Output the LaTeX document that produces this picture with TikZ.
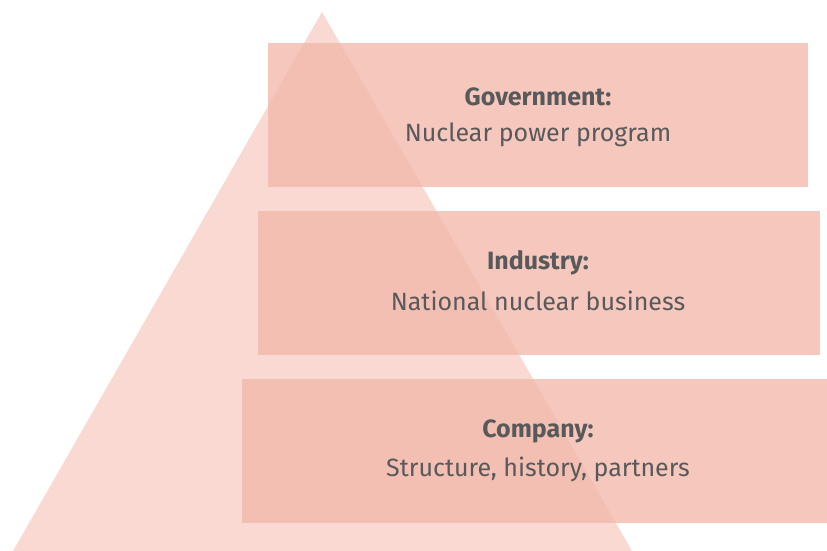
\documentclass[tikz,border=0pt]{standalone}
\usepackage{fontspec}
\setmainfont{Fira Sans}
\definecolor{tri}{HTML}{F9D9D1}
\definecolor{box}{HTML}{F6C7BC}
\definecolor{both}{HTML}{F4BFB3}
\definecolor{txt}{HTML}{58595B}
\tikzset{
  lbl/.style={text=txt, font=\fontsize{25}{30}\selectfont, anchor=center, inner sep=0pt},
  hd/.style={lbl, font=\fontsize{25}{30}\selectfont\bfseries}
}
\begin{document}
\begin{tikzpicture}[x=1pt,y=-1pt]
\useasboundingbox (0,0) rectangle (827,551);
\fill[tri] (322,12) -- (13,551) -- (632,551) -- cycle;
\fill[box] (268,43) rectangle (808,187);
\fill[box] (258,211) rectangle (820,355);
\fill[box] (242,379) rectangle (827,523);
\begin{scope}
\clip (322,12) -- (13,551) -- (632,551) -- cycle;
\fill[both] (268,43) rectangle (808,187);
\fill[both] (258,211) rectangle (820,355);
\fill[both] (242,379) rectangle (827,523);
\end{scope}
\node[hd] (g1) at (538,97) {Government:};
\node[lbl] (g2) at (538,135) {Nuclear power program};
\node[hd] (i1) at (538,263) {Industry:};
\node[lbl] (i2) at (538,301) {National nuclear business};
\node[hd] (c1) at (538,431) {Company:};
\node[lbl] (c2) at (538,469) {Structure, history, partners};
\end{tikzpicture}
\end{document}
